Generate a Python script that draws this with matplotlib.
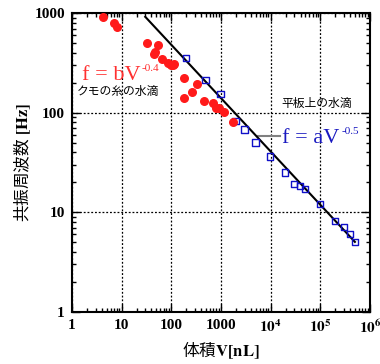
import matplotlib
matplotlib.use('Agg')
import matplotlib.pyplot as plt
from matplotlib.ticker import FixedLocator, FixedFormatter, LogLocator, NullFormatter

plt.rcParams['mathtext.fontset'] = 'stix'
plt.rcParams['font.family'] = ['Liberation Serif', 'Noto Sans CJK JP']

# spider silk droplets (red)
silk_v = [4.15, 7.1, 8.15, 33, 53, 46.8, 46, 64.7, 86.6, 106, 100, 113,
          179, 323, 263, 179, 453, 697, 789, 895, 1143, 1760]
silk_f = [906, 800, 719, 504, 478, 404, 385, 344, 313, 301, 298, 308,
          221, 193, 163, 141, 132, 126, 111, 111, 102, 81]

# droplets on a flat plate (blue)
plate_v = [197, 486, 973, 1977, 2957, 4966, 9640, 19570, 29700, 38700,
           49500, 99100, 196000, 297000, 393000, 494000]
plate_f = [354, 213, 154, 82.6, 68.2, 50.5, 36.2, 25.2, 19.3, 18.3,
           17.2, 12.1, 8.14, 7.15, 6.07, 5.05]

# fitted line end points
fit_v = [30, 4.94e5]
fit_f = [918, 5.05]

xticks = [1, 10, 100, 1000, 1e4, 1e5, 1e6]
xlabels = ['1', '10', '100', '1000', r'$\mathbf{10^4}$', r'$\mathbf{10^5}$', r'$\mathbf{10^6}$']
yticks = [1, 10, 100, 1000]
ylabels = ['1', '10', '100', '1000']

fig = plt.figure(figsize=(3.8, 3.64), dpi=100)
ax = fig.add_axes([0.189, 0.143, 0.785, 0.821])

ax.plot(fit_v, fit_f, color='black', lw=1.5, zorder=3)
ax.scatter(plate_v, plate_f, marker='s', s=22, facecolors='none',
           edgecolors='#1010c8', linewidths=1.0, zorder=4)
ax.scatter(silk_v, silk_f, marker='o', s=30, color='#ff1a1a', zorder=5)

ax.set_xscale('log')
ax.set_yscale('log')
ax.set_xlim(1, 1e6)
ax.set_ylim(1, 1000)

ax.xaxis.set_major_locator(FixedLocator(xticks))
ax.xaxis.set_major_formatter(FixedFormatter(xlabels))
ax.yaxis.set_major_locator(FixedLocator(yticks))
ax.yaxis.set_major_formatter(FixedFormatter(ylabels))
ax.xaxis.set_minor_locator(LogLocator(base=10, subs=range(2, 10), numticks=20))
ax.yaxis.set_minor_locator(LogLocator(base=10, subs=range(2, 10), numticks=20))
ax.xaxis.set_minor_formatter(NullFormatter())
ax.yaxis.set_minor_formatter(NullFormatter())

ax.tick_params(which='both', direction='in', top=True, right=True, width=1.0)
ax.tick_params(which='major', length=6, labelsize=11, pad=5)
ax.tick_params(which='minor', length=3)
for lab in ax.get_xticklabels() + ax.get_yticklabels():
    lab.set_fontweight('bold')
for s in ax.spines.values():
    s.set_linewidth(1.5)

ax.grid(True, which='major', linestyle=(0, (1.5, 1.5)), color='black', lw=0.9)

red_t = ax.text(0.033, 0.776, 'f = bV', transform=ax.transAxes,
                color='#ff3030', fontsize=16, va='baseline', zorder=6)
ax.annotate('-0.4', xy=(1, 1), xycoords=red_t, xytext=(1, 1.5),
            textcoords='offset points', color='#ff3030', fontsize=8,
            va='top', ha='left', zorder=6)
ax.text(0.016, 0.737, 'クモの糸の水滴', transform=ax.transAxes,
        family='Noto Sans CJK JP', fontsize=8.5, va='center')
ax.text(0.704, 0.698, '平板上の水滴', transform=ax.transAxes,
        family='Noto Sans CJK JP', fontsize=8.5, va='center')
blue_t = ax.text(0.706, 0.564, 'f = aV', transform=ax.transAxes,
                 color='#1818c0', fontsize=16, va='baseline', zorder=6)
ax.annotate('-0.5', xy=(1, 1), xycoords=blue_t, xytext=(1, 1.5),
            textcoords='offset points', color='#1818c0', fontsize=8,
            va='top', ha='left', zorder=6)
ax.plot([0.625, 0.698], [0.589, 0.589], transform=ax.transAxes, color='gray', lw=1.5)

ax.set_xlabel(r'体積$\mathbf{V[nL]}$', fontsize=12, family='Noto Sans CJK JP', labelpad=2)
ax.set_ylabel(r'共振周波数 $\mathbf{[Hz]}$', fontsize=12, family='Noto Sans CJK JP', labelpad=1)

fig.savefig('out.png', dpi=100)
